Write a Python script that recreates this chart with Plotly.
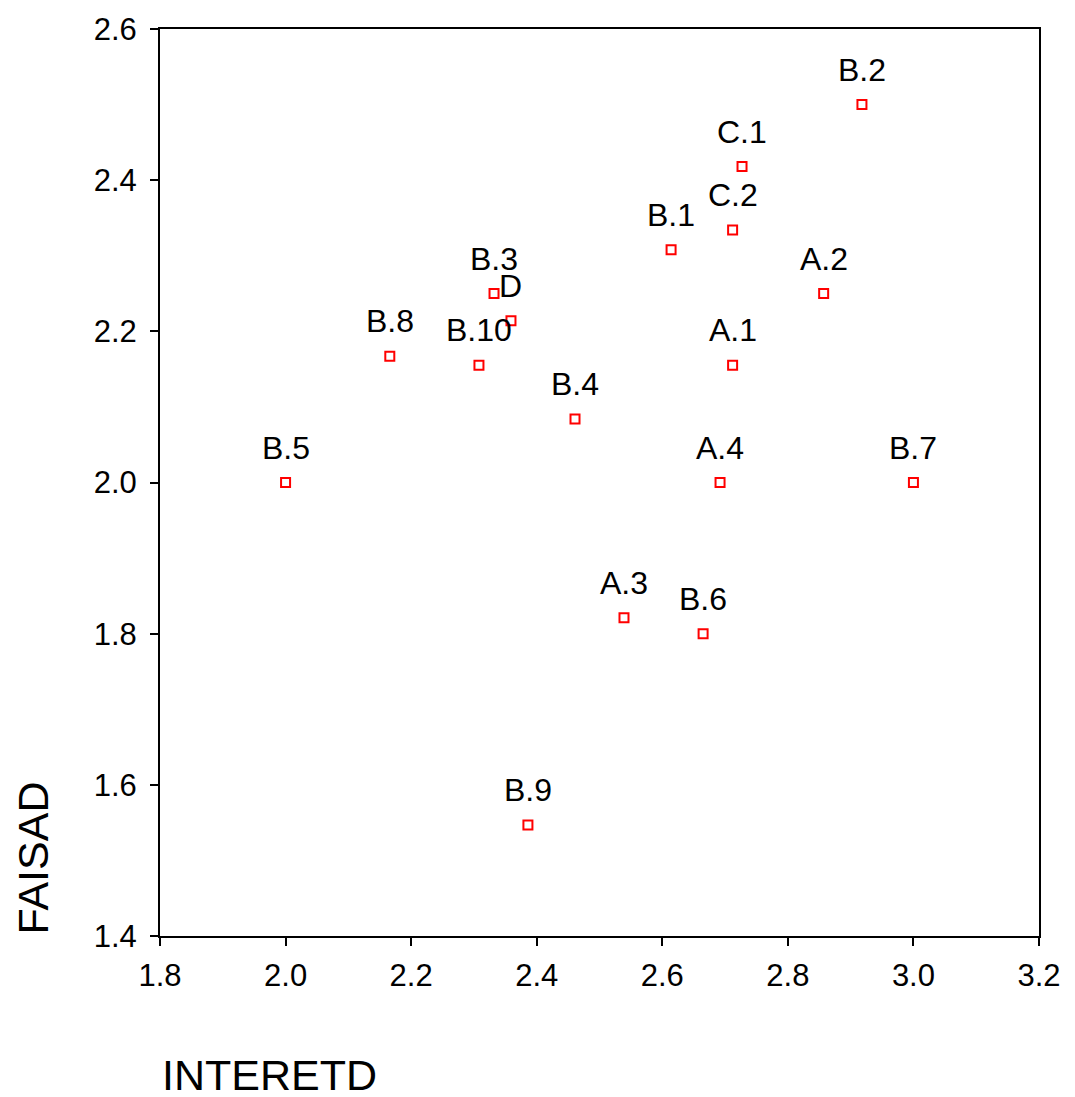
import plotly.graph_objects as go

labels = ["B.2", "C.1", "C.2", "B.1", "A.2", "B.3", "D", "B.8", "B.10", "A.1",
          "B.4", "B.5", "A.4", "B.7", "A.3", "B.6", "B.9"]
interetd = [2.918, 2.727, 2.712, 2.614, 2.857, 2.332, 2.359, 2.166, 2.308, 2.712,
            2.461, 2.0, 2.692, 3.0, 2.539, 2.665, 2.386]
faisad = [2.5, 2.418, 2.334, 2.308, 2.25, 2.25, 2.214, 2.167, 2.155, 2.155,
          2.084, 2.0, 2.0, 2.0, 1.821, 1.8, 1.547]

x_ticks = [1.8, 2.0, 2.2, 2.4, 2.6, 2.8, 3.0, 3.2]
y_ticks = [1.4, 1.6, 1.8, 2.0, 2.2, 2.4, 2.6]

FONT = "Liberation Sans, Arial, sans-serif"

fig = go.Figure()
fig.add_trace(go.Scatter(
    x=interetd, y=faisad, mode="markers",
    marker=dict(symbol="square-open", size=9, color="#ff0000",
                line=dict(width=2, color="#ff0000")),
    cliponaxis=False, showlegend=False, hoverinfo="text", hovertext=labels,
))

for lab, xv, yv in zip(labels, interetd, faisad):
    fig.add_annotation(x=xv, y=yv, text=lab, showarrow=False,
                       xanchor="center", yanchor="bottom", yshift=15,
                       font=dict(family=FONT, size=32, color="black"))

axis_common = dict(
    showgrid=False, zeroline=False, showline=True, linecolor="black", linewidth=2,
    mirror=True, ticks="outside", ticklen=8, tickwidth=2, tickcolor="black",
    tickfont=dict(family=FONT, size=31, color="black"), tickformat=".1f",
)

fig.update_xaxes(range=[1.8, 3.2], tickvals=x_ticks, ticklabelstandoff=3, **axis_common)
fig.update_yaxes(range=[1.4, 2.6], tickvals=y_ticks, ticklabelstandoff=7, **axis_common)

fig.add_annotation(text="INTERETD", xref="paper", yref="paper", x=0.0, y=-0.1537,
                   xanchor="left", yanchor="middle", showarrow=False,
                   font=dict(family=FONT, size=43, color="black"))
fig.add_annotation(text="FAISAD", xref="paper", yref="paper", x=-0.1445, y=0.0,
                   xanchor="center", yanchor="bottom", textangle=-90, showarrow=False,
                   font=dict(family=FONT, size=43, color="black"))

fig.update_layout(
    width=1075, height=1097,
    margin=dict(l=160, r=36, t=23, b=161),
    plot_bgcolor="white", paper_bgcolor="white",
    font=dict(family=FONT),
)

fig.write_html("out.html", config={"displayModeBar": False},
               post_script="document.body.style.margin='0';document.body.style.overflow='hidden';")
